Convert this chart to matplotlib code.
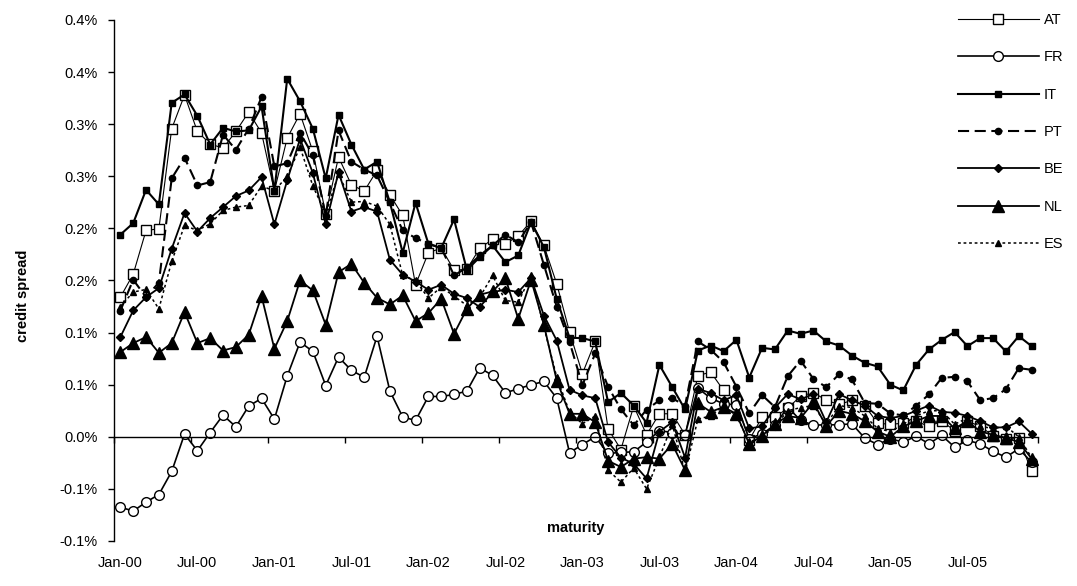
import numpy as np
import matplotlib.pyplot as plt

plt.rcParams['font.family'] = ['Liberation Sans', 'DejaVu Sans']
plt.rcParams['lines.scale_dashes'] = False

# monthly credit spreads in %, Jan-00 .. Dec-05 (72 months)
AT = [0.134, 0.156, 0.198, 0.1996, 0.2956, 0.328, 0.293, 0.281, 0.277, 0.293, 0.3116, 0.2917,
      0.2358, 0.2867, 0.310, 0.2738, 0.214, 0.2684, 0.2418, 0.2358, 0.2556, 0.2322, 0.2124, 0.1459,
      0.1766, 0.1811, 0.160, 0.1606, 0.181, 0.1894, 0.1852, 0.1926, 0.207, 0.1836, 0.1468, 0.1005,
      0.0605, 0.0915, 0.0077, -0.0122, 0.0295, 0.0019, 0.0221, 0.0221, 0.0019, 0.0588, 0.062, 0.0445,
      0.0345, -0.003, 0.0189, 0.0189, 0.0275, 0.039, 0.0425, 0.035, 0.031, 0.035, 0.030, 0.013,
      0.012, 0.013, 0.015, 0.010, 0.015, 0.006, 0.015, 0.010, 0.001, -0.002, -0.001, -0.0333]
FR = [-0.0675, -0.0713, -0.0627, -0.0554, -0.0333, 0.0026, -0.0134, 0.0041, 0.0208, 0.0096, 0.0295, 0.0368,
      0.0170, 0.0583, 0.0909, 0.0819, 0.0492, 0.0765, 0.0638, 0.0571, 0.0965, 0.0439, 0.019, 0.0157,
      0.0387, 0.0387, 0.0406, 0.0439, 0.0662, 0.0589, 0.0422, 0.0461, 0.0499, 0.0531, 0.0371, -0.0154,
      -0.0074, 0.0, -0.016, -0.015, -0.0144, -0.005, 0.006, 0.004, 0.002, 0.0467, 0.037, 0.0317,
      0.0307, -0.002, 0.003, 0.0109, 0.0285, 0.0157, 0.0112, 0.0115, 0.0115, 0.0125, -0.0013, -0.0074,
      -0.0019, -0.0051, 0.0006, -0.0067, 0.0013, -0.0099, -0.0035, -0.0067, -0.0141, -0.0195, -0.0115, -0.0243]
IT = [0.194, 0.205, 0.237, 0.223, 0.3205, 0.3285, 0.308, 0.2805, 0.2965, 0.293, 0.294, 0.317,
      0.236, 0.3436, 0.322, 0.2956, 0.248, 0.309, 0.2805, 0.2565, 0.264, 0.225, 0.1766, 0.2246,
      0.1852, 0.181, 0.2086, 0.160, 0.1724, 0.1836, 0.1676, 0.174, 0.206, 0.182, 0.1324, 0.095,
      0.0947, 0.0915, 0.0333, 0.042, 0.030, 0.0134, 0.069, 0.0477, 0.0262, 0.0828, 0.0876, 0.0822,
      0.093, 0.0569, 0.0854, 0.0838, 0.102, 0.0988, 0.102, 0.0915, 0.0876, 0.078, 0.071, 0.0675,
      0.0499, 0.0445, 0.069, 0.0838, 0.093, 0.1005, 0.087, 0.0947, 0.0947, 0.0819, 0.0966, 0.087]
PT = [0.121, 0.1507, 0.134, 0.148, 0.248, 0.2678, 0.2412, 0.2444, 0.290, 0.2754, 0.2956, 0.326,
      0.2594, 0.2626, 0.2917, 0.270, 0.212, 0.294, 0.264, 0.2565, 0.2508, 0.225, 0.198, 0.1907,
      0.1852, 0.1814, 0.1548, 0.1625, 0.174, 0.1836, 0.194, 0.1868, 0.206, 0.165, 0.125, 0.091,
      0.0495, 0.080, 0.048, 0.0265, 0.011, 0.026, 0.035, 0.037, 0.030, 0.0915, 0.0835, 0.0717,
      0.048, 0.0225, 0.040, 0.0285, 0.0582, 0.0732, 0.0555, 0.0477, 0.060, 0.055, 0.0325, 0.0317,
      0.0224, 0.0205, 0.0298, 0.0406, 0.0566, 0.0575, 0.0532, 0.0352, 0.0371, 0.0457, 0.0659, 0.0643]
BE = [0.0957, 0.1212, 0.134, 0.1427, 0.1804, 0.2147, 0.197, 0.2099, 0.2204, 0.231, 0.2364, 0.2492,
      0.2038, 0.246, 0.286, 0.253, 0.2038, 0.254, 0.2162, 0.2204, 0.2162, 0.1699, 0.1555, 0.149,
      0.1411, 0.1459, 0.1372, 0.1331, 0.1245, 0.1389, 0.1411, 0.1389, 0.1523, 0.1164, 0.0924, 0.0451,
      0.0397, 0.0371, -0.005, -0.020, -0.026, -0.040, 0.005, 0.014, -0.020, 0.046, 0.042, 0.035,
      0.040, 0.008, 0.010, 0.028, 0.041, 0.036, 0.041, 0.014, 0.041, 0.035, 0.030, 0.020,
      0.018, 0.020, 0.025, 0.030, 0.024, 0.023, 0.020, 0.015, 0.009, 0.009, 0.0147, 0.003]
NL = [0.0813, 0.0899, 0.0957, 0.0806, 0.0899, 0.1197, 0.0899, 0.0947, 0.0828, 0.0861, 0.0979, 0.135,
      0.0845, 0.111, 0.150, 0.1404, 0.1075, 0.158, 0.166, 0.1478, 0.1334, 0.127, 0.1356, 0.111,
      0.1187, 0.1324, 0.0988, 0.1228, 0.1363, 0.1395, 0.1523, 0.1132, 0.1507, 0.1075, 0.054, 0.0221,
      0.022, 0.014, -0.023, -0.029, -0.021, -0.0195, -0.021, -0.007, -0.032, 0.032, 0.024, 0.0285,
      0.022, -0.007, 0.001, 0.012, 0.020, 0.018, 0.033, 0.010, 0.025, 0.022, 0.015, 0.005,
      0.000, 0.010, 0.015, 0.020, 0.020, 0.008, 0.015, 0.005, 0.002, -0.001, -0.005, -0.021]
ES = [0.125, 0.1389, 0.1414, 0.1228, 0.1683, 0.2028, 0.198, 0.2044, 0.2172, 0.2204, 0.222, 0.2406,
      0.236, 0.250, 0.278, 0.2406, 0.214, 0.2524, 0.2252, 0.2258, 0.2214, 0.2038, 0.1548, 0.150,
      0.1331, 0.1437, 0.135, 0.126, 0.134, 0.1548, 0.1308, 0.1292, 0.1548, 0.1053, 0.0573, 0.0237,
      0.0125, 0.020, -0.032, -0.0435, -0.030, -0.050, -0.020, 0.012, -0.034, 0.017, 0.020, 0.030,
      0.020, -0.005, 0.000, 0.010, 0.025, 0.028, 0.030, 0.012, 0.030, 0.028, 0.020, 0.008,
      0.005, 0.012, 0.020, 0.025, 0.025, 0.012, 0.018, 0.010, 0.008, 0.010, 0.000, -0.020]

date_labels = ['Jan-00', 'Jul-00', 'Jan-01', 'Jul-01', 'Jan-02', 'Jul-02',
               'Jan-03', 'Jul-03', 'Jan-04', 'Jul-04', 'Jan-05', 'Jul-05']
ytick_vals = [-0.1, -0.05, 0.0, 0.05, 0.1, 0.15, 0.2, 0.25, 0.3, 0.35, 0.4]
ytick_labels = ['-0.1%', '-0.1%', '0.0%', '0.1%', '0.1%', '0.2%', '0.2%', '0.3%', '0.3%', '0.4%', '0.4%']

x = np.arange(len(AT))

fig = plt.figure(figsize=(10.77, 5.86), dpi=100)
ax = fig.add_axes([0.1058, 0.0768, 0.8580, 0.8891])

#series styles, drawn in the original order
ax.plot(x, AT, color='black', lw=0.8, marker='s', ms=6.5, mfc='white', mec='black', mew=1.0, label='AT')
ax.plot(x, FR, color='black', lw=1.2, marker='o', ms=7, mfc='white', mec='black', mew=1.0, label='FR')
ax.plot(x, IT, color='black', lw=1.5, marker='s', ms=4.5, mfc='black', mec='black', label='IT')
ax.plot(x, PT, color='black', lw=1.5, dashes=(8, 4), marker='o', ms=4.5, mfc='black', mec='black', label='PT')
ax.plot(x, BE, color='black', lw=1.3, marker='D', ms=4.2, mfc='black', mec='black', label='BE')
ax.plot(x, NL, color='black', lw=1.3, marker='^', ms=8.5, mfc='black', mec='black', label='NL')
ax.plot(x, ES, color='black', lw=1.1, dashes=(2, 2), marker='^', ms=5, mfc='black', mec='black', label='ES')

ax.set_xlim(-0.5, len(AT) - 0.5)
ax.set_ylim(-0.1, 0.4)

#only the left spine and the zero line
for s in ['top', 'right']:
    ax.spines[s].set_visible(False)
ax.spines['bottom'].set_position(('data', 0))
ax.spines['left'].set_linewidth(1.0)
ax.spines['bottom'].set_linewidth(1.0)

ax.set_xticks(np.arange(-0.5, len(AT), 6))
ax.set_xticklabels([])
ax.tick_params(axis='x', direction='out', length=4, width=1)

ax.set_yticks(ytick_vals)
ax.set_yticklabels(ytick_labels)
ax.tick_params(axis='y', direction='out', length=4, width=1, labelsize=10.5, pad=8)

#date labels under every sixth month, along the bottom
for pos, lab in zip(x[::6], date_labels):
    ax.text(pos, -0.042, lab, transform=ax.get_xaxis_transform(),
            ha='center', va='center', fontsize=10.5)

ax.text(0.5, 0.025, 'maturity', transform=ax.transAxes, ha='center', va='center',
        fontsize=10.5, fontweight='bold')
fig.text(0.021, 0.495, 'credit spread', rotation=90, ha='center', va='center',
         fontsize=10.5, fontweight='bold')

ax.legend(loc='upper left', bbox_to_anchor=(0.877, 1.0), bbox_transform=fig.transFigure,
          frameon=False, fontsize=10.5, handlelength=5.6, handletextpad=0.3,
          labelspacing=1.6, borderpad=0.4)

fig.savefig('out.png', dpi=100)
